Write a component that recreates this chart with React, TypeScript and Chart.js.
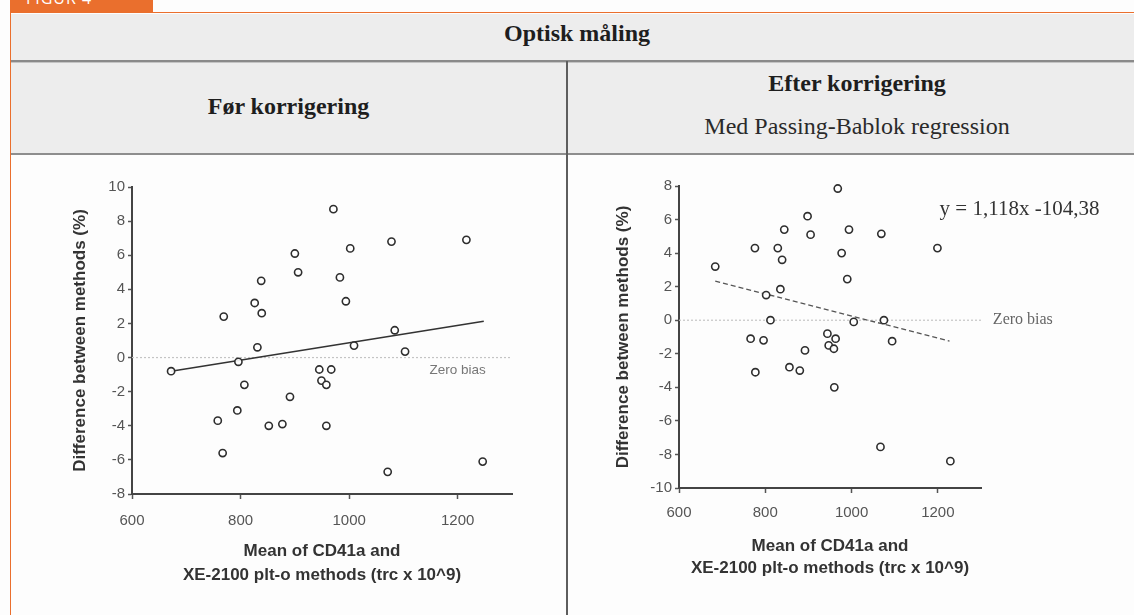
import React, { useEffect, useRef } from 'react';
import { Chart, registerables } from 'chart.js';

Chart.register(...registerables);

// ---------- data ----------
const xTicks = [600, 800, 1000, 1200];
const leftYTicks = [-8, -6, -4, -2, 0, 2, 4, 6, 8, 10];
const rightYTicks = [-10, -8, -6, -4, -2, 0, 2, 4, 6, 8];

const leftX = [672, 769, 758, 767, 794, 796, 807, 831, 826, 839, 838, 852, 877, 891, 900, 906, 945, 949, 958, 967, 958, 971, 983, 994, 1002, 1009, 1071, 1078, 1084, 1103, 1216, 1246];
const leftY = [-0.8, 2.4, -3.7, -5.6, -3.1, -0.25, -1.6, 0.6, 3.2, 2.6, 4.5, -4.0, -3.9, -2.3, 6.1, 5.0, -0.7, -1.35, -1.6, -0.7, -4.0, 8.7, 4.7, 3.3, 6.4, 0.7, -6.7, 6.8, 1.6, 0.35, 6.9, -6.1];

const rightX = [684, 776, 766, 777, 796, 802, 812, 829, 839, 844, 835, 856, 880, 892, 898, 905, 944, 947, 959, 963, 960, 968, 977, 990, 994, 1005, 1069, 1075, 1067, 1094, 1199, 1229];
const rightY = [3.2, 4.3, -1.1, -3.1, -1.2, 1.5, 0.0, 4.3, 3.6, 5.4, 1.85, -2.8, -3.0, -1.8, 6.2, 5.1, -0.8, -1.5, -1.7, -1.1, -4.0, 7.85, 4.0, 2.45, 5.4, -0.1, 5.15, 0.0, -7.55, -1.25, 4.3, -8.4];

const leftFitX = [672, 1248];
const leftFitY = [-0.8, 2.13];
const rightFitX = [684, 1227];
const rightFitY = [2.33, -1.24];
const zeroLineX = [600, 1300];
const zeroLineY = [0, 0];

const xTitle = ['Mean of CD41a and', 'XE-2100 plt-o methods (trc x 10^9)'];
const yTitle = 'Difference between methods (%)';
const zeroLabel = 'Zero bias';
const equation = 'y = 1,118x -104,38';

const SANS = '"Liberation Sans", Arial, sans-serif';
const SERIF = '"Liberation Serif", "Times New Roman", serif';

type Note = { text: string; x: number; y: number; font: string; color: string; align: CanvasTextAlign };

function pts(xs: number[], ys: number[]) {
  return xs.map((x, i) => ({ x, y: ys[i] }));
}

function notesPlugin(notes: Note[]) {
  return {
    id: 'notes',
    afterDatasetsDraw(chart: any) {
      const ctx = chart.ctx;
      const xs = chart.scales.x;
      const ys = chart.scales.y;
      ctx.save();
      notes.forEach((n) => {
        ctx.font = n.font;
        ctx.fillStyle = n.color;
        ctx.textAlign = n.align;
        ctx.textBaseline = 'middle';
        ctx.fillText(n.text, xs.getPixelForValue(n.x), ys.getPixelForValue(n.y));
      });
      ctx.restore();
    },
  };
}

type Cfg = {
  px: number[]; py: number[];
  fx: number[]; fy: number[];
  fitDash: number[]; fitColor: string; fitWidth: number;
  yMin: number; yMax: number; yTicks: number[];
  padLeft: number; padTop: number; padRight: number;
  yAxisWidth: number; xAxisHeight: number;
  xTickPad: number; xTitleLH: number; xTitlePadBottom: number;
  notes: Note[];
};

function makeConfig(c: Cfg): any {
  const tickFont = { family: SANS, size: 15 };
  const plain = (v: any) => String(v);
  return {
    type: 'scatter',
    data: {
      datasets: [
        {
          data: pts(zeroLineX, zeroLineY),
          showLine: true,
          pointRadius: 0,
          borderColor: '#c4c4c4',
          borderWidth: 1.2,
          borderDash: [2, 2],
          order: 3,
        },
        {
          data: pts(c.fx, c.fy),
          showLine: true,
          pointRadius: 0,
          borderColor: c.fitColor,
          borderWidth: c.fitWidth,
          borderDash: c.fitDash,
          order: 2,
        },
        {
          data: pts(c.px, c.py),
          pointStyle: 'circle',
          pointRadius: 3.6,
          pointBorderWidth: 1.6,
          pointBorderColor: '#2e2e2e',
          pointBackgroundColor: 'rgba(255,255,255,0.9)',
          clip: false,
          order: 1,
        },
      ],
    },
    options: {
      animation: false,
      responsive: false,
      devicePixelRatio: 1,
      layout: { padding: { left: c.padLeft, top: c.padTop, right: c.padRight, bottom: 0 } },
      plugins: { legend: { display: false }, tooltip: { enabled: false }, title: { display: false } },
      scales: {
        x: {
          type: 'linear',
          min: 600,
          max: 1300,
          afterBuildTicks: (s: any) => { s.ticks = xTicks.map((v) => ({ value: v })); },
          afterFit: (s: any) => { s.height = c.xAxisHeight; },
          grid: { drawOnChartArea: false, drawTicks: true, tickLength: 5, tickColor: '#555', tickWidth: 1.5 },
          border: { display: true, color: '#444', width: 2 },
          ticks: { color: '#555', font: tickFont, padding: c.xTickPad, maxRotation: 0, callback: plain },
          title: {
            display: true,
            text: xTitle,
            color: '#333',
            font: { family: SANS, size: 17, weight: 'bold', lineHeight: c.xTitleLH },
            padding: { top: 0, bottom: c.xTitlePadBottom },
          },
        },
        y: {
          type: 'linear',
          min: c.yMin,
          max: c.yMax,
          afterBuildTicks: (s: any) => { s.ticks = c.yTicks.map((v) => ({ value: v })); },
          afterFit: (s: any) => { s.width = c.yAxisWidth; },
          grid: { drawOnChartArea: false, drawTicks: true, tickLength: 4, tickColor: '#555', tickWidth: 1.5 },
          border: { display: true, color: '#444', width: 2 },
          ticks: { color: '#555', font: tickFont, padding: 3, callback: plain },
          title: {
            display: true,
            text: yTitle,
            color: '#333',
            font: { family: SANS, size: 17, weight: 'bold', lineHeight: 1.2 },
            padding: { top: 0, bottom: 0 },
          },
        },
      },
    },
    plugins: [notesPlugin(c.notes)],
  };
}

const leftCfg: Cfg = {
  px: leftX, py: leftY, fx: leftFitX, fy: leftFitY,
  fitDash: [], fitColor: '#333', fitWidth: 1.6,
  yMin: -8, yMax: 10, yTicks: leftYTicks,
  padLeft: 59, padTop: 31, padRight: 54,
  yAxisWidth: 62, xAxisHeight: 121,
  xTickPad: 13, xTitleLH: 1.41, xTitlePadBottom: 28,
  notes: [
    { text: zeroLabel, x: 1200, y: -0.75, font: `13.5px ${SANS}`, color: '#777', align: 'center' },
  ],
};

const rightCfg: Cfg = {
  px: rightX, py: rightY, fx: rightFitX, fy: rightFitY,
  fitDash: [5, 3], fitColor: '#555', fitWidth: 1.3,
  yMin: -10, yMax: 8, yTicks: rightYTicks,
  padLeft: 44, padTop: 30, padRight: 153,
  yAxisWidth: 66, xAxisHeight: 127,
  xTickPad: 11, xTitleLH: 1.3, xTitlePadBottom: 36,
  notes: [
    { text: zeroLabel, x: 1397, y: 0, font: `16px ${SERIF}`, color: '#666', align: 'center' },
    { text: equation, x: 1204, y: 6.6, font: `21px ${SERIF}`, color: '#333', align: 'left' },
  ],
};

function ChartCanvas({ cfg, width, height }: { cfg: Cfg; width: number; height: number }) {
  const ref = useRef<HTMLCanvasElement | null>(null);
  useEffect(() => {
    if (!ref.current) return;
    const chart = new Chart(ref.current, makeConfig(cfg));
    return () => chart.destroy();
  }, [cfg]);
  return <canvas ref={ref} width={width} height={height} style={{ display: 'block', width, height }} />;
}

const headerBg = '#ededed';
const orange = '#ea6f2d';

export default function App() {
  return (
    <div style={{ position: 'fixed', left: 0, top: 0, width: 1134, height: 615, background: '#fdfdfd', overflow: 'hidden' }}>
      {/* Orange tab */}
      <div style={{ position: 'absolute', left: 10, top: 0, width: 143, height: 12, background: orange, overflow: 'hidden' }}>
        <div style={{ position: 'absolute', left: 16, top: -13, color: '#fff', font: `16px "Open Sans", sans-serif`, letterSpacing: 1 }}>FIGUR 4</div>
      </div>
      {/* frame */}
      <div style={{ position: 'absolute', left: 10, top: 12, width: 1124, height: 603, borderTop: `1.5px solid ${orange}`, borderLeft: `1px solid ${orange}`, boxSizing: 'border-box' }} />
      {/* header band */}
      <div style={{ position: 'absolute', left: 11, top: 14, width: 1123, height: 47, background: headerBg }} />
      <div style={{ position: 'absolute', left: 0, top: 15, width: 1154, textAlign: 'center', font: `bold 24px ${SERIF}`, color: '#1e1e1e', lineHeight: '36px' }}>Optisk måling</div>
      <div style={{ position: 'absolute', left: 11, top: 60, width: 1123, height: 2, background: '#8a8a8a' }} />
      <div style={{ position: 'absolute', left: 11, top: 62, width: 1123, height: 1, background: '#c4c4c4' }} />
      {/* subheader band */}
      <div style={{ position: 'absolute', left: 11, top: 63, width: 1123, height: 90, background: headerBg }} />
      <div style={{ position: 'absolute', left: 11, top: 153, width: 1123, height: 2, background: '#8e8e8e' }} />
      <div style={{ position: 'absolute', left: 566, top: 61, width: 2, height: 554, background: '#5e5e5e' }} />
      <div style={{ position: 'absolute', left: 11, top: 88, width: 555, textAlign: 'center', font: `bold 24px ${SERIF}`, color: '#1e1e1e', lineHeight: '36px' }}>Før korrigering</div>
      <div style={{ position: 'absolute', left: 568, top: 65, width: 578, textAlign: 'center', font: `bold 24px ${SERIF}`, color: '#1e1e1e', lineHeight: '36px' }}>Efter korrigering</div>
      <div style={{ position: 'absolute', left: 568, top: 108, width: 578, textAlign: 'center', font: `24px ${SERIF}`, color: '#2a2a2a', lineHeight: '36px' }}>Med Passing-Bablok regression</div>
      {/* charts */}
      <div style={{ position: 'absolute', left: 11, top: 156 }}>
        <ChartCanvas cfg={leftCfg} width={555} height={459} />
      </div>
      <div style={{ position: 'absolute', left: 569, top: 156 }}>
        <ChartCanvas cfg={rightCfg} width={565} height={459} />
      </div>
    </div>
  );
}
